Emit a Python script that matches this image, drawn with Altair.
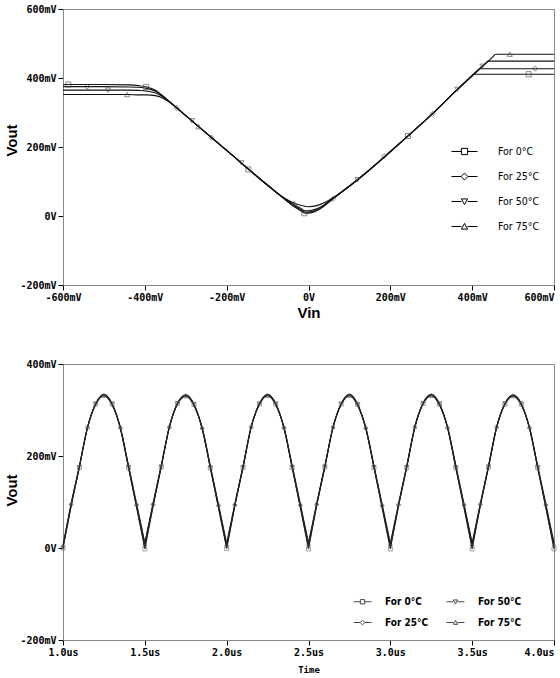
import altair as alt
import pandas as pd

SERIES = ["For 0°C", "For 25°C", "For 50°C", "For 75°C"]
MARKERS = ["square", "diamond", "triangle-down", "triangle-up"]
LEGEND_PATHS = [
    "M-1,0H-0.24M0.24,0H1M-0.24,-0.24H0.24V0.24H-0.24Z",
    "M-1,0H-0.26M0.26,0H1M0,-0.26L0.26,0L0,0.26L-0.26,0Z",
    "M-1,0H-0.24M0.24,0H1M-0.24,-0.2H0.24L0,0.24Z",
    "M-1,0H-0.24M0.24,0H1M-0.24,0.2H0.24L0,-0.24Z",
]

# ---------------- DC sweep (top), values in mV ----------------
vin_0c = [-600, -500, -440, -415, -395, -375, -358, -342, -300, -200, -100, -60, -40, -20, -8, 5, 20, 35, 55, 120, 242, 300, 364, 398, 404, 600]
vout_0c = [381, 381, 380, 378, 374, 365, 350, 334, 291, 190, 89, 50, 31, 16, 8, 9, 15, 26, 45, 105, 231, 293, 367, 404, 411, 411]
vin_25c = [-600, -500, -440, -415, -395, -375, -358, -342, -300, -200, -100, -60, -40, -20, -8, 5, 20, 35, 55, 120, 242, 300, 364, 413, 419, 600]
vout_25c = [375, 375, 374, 373, 370, 362, 349, 333, 291, 190, 89, 51, 33, 19, 11, 12, 18, 28, 46, 105, 231, 293, 367, 421, 427, 427]
vin_50c = [-600, -500, -440, -415, -395, -375, -358, -342, -300, -200, -100, -60, -40, -20, -8, 5, 20, 35, 55, 120, 242, 300, 364, 433, 439, 600]
vout_50c = [365, 365, 365, 364, 362, 357, 347, 333, 291, 190, 89, 52, 36, 23, 15, 16, 21, 30, 47, 105, 231, 293, 367, 443, 449, 449]
vin_75c = [-600, -500, -440, -415, -395, -375, -358, -342, -300, -200, -100, -60, -40, -20, 0, 20, 40, 60, 120, 242, 300, 364, 451, 457, 600]
vout_75c = [352, 352, 352, 351, 351, 349, 343, 332, 291, 190, 90, 53, 40, 31, 27, 30, 39, 53, 106, 231, 293, 367, 462, 469, 469]

mk_vin_0c = [-587, -397, -147, -10, 243, 538]
mk_vout_0c = [381, 374, 135, 8, 232, 411]
mk_vin_25c = [-541, -322, -237, 60, 185, 303, 554]
mk_vout_25c = [375, 313, 227, 50, 174, 296, 427]
mk_vin_50c = [-490, -285, -164, 120, 364, 425]
mk_vout_50c = [365, 276, 154, 105, 367, 434]
mk_vin_75c = [-443, -269, -35, 492]
mk_vout_75c = [352, 259, 37, 469]

# ---------------- Transient (bottom), time in us, values in mV ----------------
time_us = [1.00, 1.05, 1.10, 1.15, 1.20, 1.25, 1.30, 1.35, 1.40, 1.45,
           1.50, 1.55, 1.60, 1.65, 1.70, 1.75, 1.80, 1.85, 1.90, 1.95,
           2.00, 2.05, 2.10, 2.15, 2.20, 2.25, 2.30, 2.35, 2.40, 2.45,
           2.50, 2.55, 2.60, 2.65, 2.70, 2.75, 2.80, 2.85, 2.90, 2.95,
           3.00, 3.05, 3.10, 3.15, 3.20, 3.25, 3.30, 3.35, 3.40, 3.45,
           3.50, 3.55, 3.60, 3.65, 3.70, 3.75, 3.80, 3.85, 3.90, 3.95,
           4.00]
tr_0c = [0, 92, 175, 262, 313, 333, 313, 260, 175, 88,
         -2, 90, 176, 262, 314, 332, 312, 259, 174, 87,
         -1, 91, 175, 263, 313, 333, 313, 260, 175, 88,
         -2, 92, 176, 262, 313, 333, 312, 259, 175, 87,
         -2, 91, 175, 262, 314, 333, 313, 260, 174, 88,
         -2, 92, 176, 262, 313, 332, 313, 260, 175, 88,
         -2]
tr_25c = [4, 95, 177, 263, 313, 332, 312, 262, 178, 93,
          8, 95, 178, 264, 314, 331, 311, 261, 177, 92,
          7, 94, 177, 264, 313, 332, 312, 262, 178, 93,
          8, 95, 178, 263, 313, 332, 311, 261, 177, 92,
          7, 94, 177, 264, 314, 332, 312, 262, 178, 93,
          8, 95, 178, 264, 313, 331, 312, 262, 177, 93,
          8]
tr_50c = [1, 93, 176, 262, 314, 334, 314, 261, 176, 89,
          3, 92, 177, 263, 315, 333, 313, 260, 175, 89,
          2, 93, 176, 263, 314, 334, 314, 261, 176, 90,
          3, 93, 177, 262, 314, 334, 313, 260, 176, 89,
          3, 92, 176, 263, 315, 334, 314, 261, 175, 90,
          3, 93, 177, 263, 314, 333, 314, 261, 176, 89,
          3]
tr_75c = [6, 97, 178, 263, 312, 331, 311, 263, 180, 96,
          11, 97, 179, 264, 313, 330, 310, 262, 179, 95,
          10, 96, 178, 264, 312, 331, 311, 263, 180, 96,
          11, 97, 179, 263, 312, 331, 310, 262, 179, 95,
          10, 96, 178, 264, 313, 331, 311, 263, 180, 96,
          11, 97, 179, 264, 312, 330, 311, 263, 179, 96,
          11]

# ---------------- tables ----------------
dc_curves = [(vin_0c, vout_0c), (vin_25c, vout_25c), (vin_50c, vout_50c), (vin_75c, vout_75c)]
dc_marks = [(mk_vin_0c, mk_vout_0c), (mk_vin_25c, mk_vout_25c), (mk_vin_50c, mk_vout_50c), (mk_vin_75c, mk_vout_75c)]
tr_curves = [tr_0c, tr_25c, tr_50c, tr_75c]

dc_rows, dcm_rows, tr_rows, trm_rows = [], [], [], []
for s, (xs, ys) in zip(SERIES, dc_curves):
    for x, y in zip(xs, ys):
        dc_rows.append({"series": s, "vin": x, "vout": y})
for s, (xs, ys) in zip(SERIES, dc_marks):
    for x, y in zip(xs, ys):
        dcm_rows.append({"series": s, "vin": x, "vout": y})
for si, (s, vals) in enumerate(zip(SERIES, tr_curves)):
    for k in range(6):
        for i in range(10 * k, 10 * k + 11):
            tr_rows.append({"series": s, "seg": f"{s}-{k}", "t": time_us[i], "v": vals[i]})
    for i, (t, v) in enumerate(zip(time_us, vals)):
        if i % 2 == si % 2:
            trm_rows.append({"series": s, "t": t, "v": v})

dc_df = pd.DataFrame(dc_rows)
dcm_df = pd.DataFrame(dcm_rows)
tr_df = pd.DataFrame(tr_rows)
trm_df = pd.DataFrame(trm_rows)

MV_LABEL = "datum.value == 0 ? '0V' : datum.value + 'mV'"
TICK_FONT = "DejaVu Sans Mono"
LEG_FONT = "Liberation Sans Narrow, DejaVu Sans Condensed, Liberation Sans, sans-serif"
PLOT_W = 491
PLOT_H = 276

# ---------------- top chart ----------------
x_top = alt.X(
    "vin:Q",
    scale=alt.Scale(domain=[-600, 600], nice=False, zero=False),
    axis=alt.Axis(values=[-600, -400, -200, 0, 200, 400, 600], labelExpr=MV_LABEL,
                  title="Vin", titleFont="Liberation Sans", titleFontSize=15,
                  titleFontWeight="bold", titlePadding=3,
                  labelAlign={"condition": {"test": "datum.value == 600", "value": "right"}, "value": "center"}),
)
y_top = alt.Y(
    "vout:Q",
    scale=alt.Scale(domain=[-200, 600], nice=False, zero=False),
    axis=alt.Axis(values=[-200, 0, 200, 400, 600], labelExpr=MV_LABEL,
                  title="Vout", titleFont="Liberation Sans", titleFontSize=15,
                  titleFontWeight="bold", titlePadding=0, titleY=131),
)

top_lines = alt.Chart(dc_df).mark_line(interpolate="monotone", color="#111", strokeWidth=1.1).encode(
    x=x_top, y=y_top, detail="series:N")
top_marks = alt.Chart(dcm_df).mark_point(filled=False, size=26, color="#444", strokeWidth=0.9).encode(
    x=x_top, y=y_top,
    shape=alt.Shape("series:N", scale=alt.Scale(domain=SERIES, range=MARKERS), legend=None))
top_leg = alt.Chart(dc_df).mark_point(filled=False, opacity=0, color="black").encode(
    x=x_top, y=y_top,
    shape=alt.Shape("series:N", scale=alt.Scale(domain=SERIES, range=LEGEND_PATHS),
                    legend=alt.Legend(orient="none", legendX=388, legendY=129, title=None,
                                      symbolSize=676, symbolStrokeColor="black",
                                      symbolFillColor="transparent", symbolStrokeWidth=1,
                                      symbolOpacity=1, labelFont=LEG_FONT,
                                      labelFontSize=10.5, labelColor="black", labelOffset=20,
                                      rowPadding=6, padding=0)))
top = alt.layer(top_lines, top_marks, top_leg).resolve_scale(shape="independent").properties(
    width=PLOT_W, height=PLOT_H)

# ---------------- bottom chart ----------------
x_bot = alt.X(
    "t:Q",
    scale=alt.Scale(domain=[1.0, 4.0], nice=False, zero=False),
    axis=alt.Axis(values=[1.0, 1.5, 2.0, 2.5, 3.0, 3.5, 4.0],
                  labelExpr="format(datum.value, '.1f') + 'us'",
                  title="Time", titleFont=TICK_FONT, titleFontSize=9,
                  titleFontWeight="bold", titlePadding=8,
                  labelAlign={"condition": {"test": "datum.value == 4", "value": "right"}, "value": "center"}),
)
y_bot = alt.Y(
    "v:Q",
    scale=alt.Scale(domain=[-200, 400], nice=False, zero=False),
    axis=alt.Axis(values=[-200, 0, 200, 400], labelExpr=MV_LABEL,
                  title="Vout", titleFont="Liberation Sans", titleFontSize=15,
                  titleFontWeight="bold", titlePadding=0, titleY=126),
)

bot_lines = alt.Chart(tr_df).mark_line(interpolate="monotone", color="#222", strokeWidth=1.1).encode(
    x=x_bot, y=y_bot, detail="seg:N")
bot_marks = alt.Chart(trm_df).mark_point(filled=False, size=16, color="#555", strokeWidth=0.8).encode(
    x=x_bot, y=y_bot,
    shape=alt.Shape("series:N", scale=alt.Scale(domain=SERIES, range=MARKERS), legend=None))
bot_leg = alt.Chart(trm_df).mark_point(filled=False, opacity=0, color="black").encode(
    x=x_bot, y=y_bot,
    shape=alt.Shape("series:N", scale=alt.Scale(domain=SERIES, range=LEGEND_PATHS),
                    legend=alt.Legend(orient="none", legendX=290, legendY=228, title=None,
                                      columns=2, columnPadding=15,
                                      symbolSize=324, symbolStrokeColor="#333",
                                      symbolFillColor="transparent", symbolStrokeWidth=0.9,
                                      symbolOpacity=1, labelFont=LEG_FONT,
                                      labelFontSize=10, labelFontWeight="bold",
                                      labelColor="black", labelOffset=13,
                                      rowPadding=6, padding=0)))
bottom = alt.layer(bot_lines, bot_marks, bot_leg).resolve_scale(shape="independent").properties(
    width=PLOT_W, height=PLOT_H)

chart = alt.vconcat(top, bottom, spacing=37).properties(
    padding={"left": 4, "top": 3, "right": 0, "bottom": 0},
    background="white",
).configure_view(
    stroke="#888", strokeWidth=1
).configure_axis(
    grid=False, labelFont=TICK_FONT, labelFontWeight="bold", labelFontSize=10,
    labelColor="black", tickColor="black", tickSize=5, tickWidth=1,
    domainColor="#888", domainWidth=1, labelPadding=2, titleColor="black",
)

chart.save("out.html", embed_options={"renderer": "svg", "actions": False})
